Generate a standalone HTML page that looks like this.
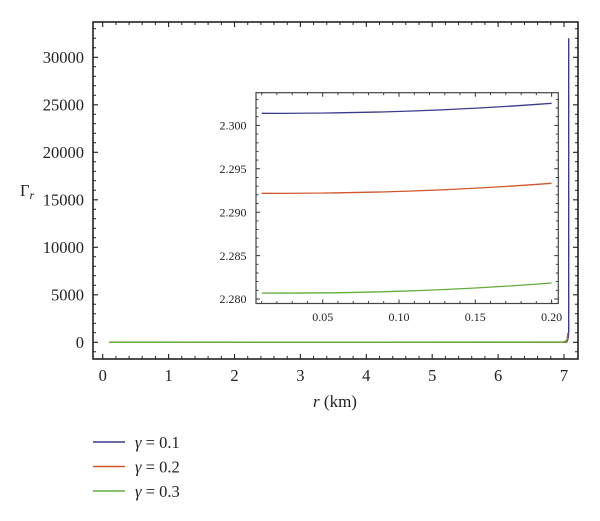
<!DOCTYPE html>
<html><head><meta charset="utf-8"><style>
html,body{margin:0;padding:0;background:#fff;}
svg{display:block;}
text{font-family:"Liberation Serif",serif;fill:#222;}
</style></head><body>
<svg width="600" height="521" viewBox="0 0 600 521" xmlns="http://www.w3.org/2000/svg">
<!-- main frame -->
<rect x="93" y="22" width="485" height="337" fill="none" stroke="#222" stroke-width="1.6"/>
<!-- main x ticks major -->
<path stroke="#222" stroke-width="1.1" fill="none" d="
M102.7 359v-5 M168.6 359v-5 M234.5 359v-5 M300.4 359v-5 M366.3 359v-5 M432.2 359v-5 M498.1 359v-5 M564 359v-5
M102.7 22v5 M168.6 22v5 M234.5 22v5 M300.4 22v5 M366.3 22v5 M432.2 22v5 M498.1 22v5 M564 22v5"/>
<path stroke="#222" stroke-width="1" fill="none" d="
M115.9 359v-3 M129.1 359v-3 M142.2 359v-3 M155.4 359v-3 M181.8 359v-3 M195 359v-3 M208.1 359v-3 M221.3 359v-3
M247.7 359v-3 M260.9 359v-3 M274 359v-3 M287.2 359v-3 M313.6 359v-3 M326.8 359v-3 M339.9 359v-3 M353.1 359v-3
M379.5 359v-3 M392.7 359v-3 M405.8 359v-3 M419 359v-3 M445.4 359v-3 M458.6 359v-3 M471.7 359v-3 M484.9 359v-3
M511.3 359v-3 M524.5 359v-3 M537.6 359v-3 M550.8 359v-3
M115.9 22v3 M129.1 22v3 M142.2 22v3 M155.4 22v3 M181.8 22v3 M195 22v3 M208.1 22v3 M221.3 22v3
M247.7 22v3 M260.9 22v3 M274 22v3 M287.2 22v3 M313.6 22v3 M326.8 22v3 M339.9 22v3 M353.1 22v3
M379.5 22v3 M392.7 22v3 M405.8 22v3 M419 22v3 M445.4 22v3 M458.6 22v3 M471.7 22v3 M484.9 22v3
M511.3 22v3 M524.5 22v3 M537.6 22v3 M550.8 22v3"/>
<!-- main y ticks major -->
<path stroke="#222" stroke-width="1.1" fill="none" d="
M93 342.3h5 M93 294.8h5 M93 247.3h5 M93 199.8h5 M93 152.3h5 M93 104.8h5 M93 57.3h5
M578 342.3h-5 M578 294.8h-5 M578 247.3h-5 M578 199.8h-5 M578 152.3h-5 M578 104.8h-5 M578 57.3h-5"/>
<path stroke="#222" stroke-width="1" fill="none" d="
M93 351.8h3 M93 332.8h3 M93 323.3h3 M93 313.8h3 M93 304.3h3 M93 285.3h3 M93 275.8h3 M93 266.3h3 M93 256.8h3
M93 237.8h3 M93 228.3h3 M93 218.8h3 M93 209.3h3 M93 190.3h3 M93 180.8h3 M93 171.3h3 M93 161.8h3
M93 142.8h3 M93 133.3h3 M93 123.8h3 M93 114.3h3 M93 95.3h3 M93 85.8h3 M93 76.3h3 M93 66.8h3
M93 47.8h3 M93 38.3h3 M93 28.8h3
M578 351.8h-3 M578 332.8h-3 M578 323.3h-3 M578 313.8h-3 M578 304.3h-3 M578 285.3h-3 M578 275.8h-3 M578 266.3h-3 M578 256.8h-3
M578 237.8h-3 M578 228.3h-3 M578 218.8h-3 M578 209.3h-3 M578 190.3h-3 M578 180.8h-3 M578 171.3h-3 M578 161.8h-3
M578 142.8h-3 M578 133.3h-3 M578 123.8h-3 M578 114.3h-3 M578 95.3h-3 M578 85.8h-3 M578 76.3h-3 M578 66.8h-3
M578 47.8h-3 M578 38.3h-3 M578 28.8h-3"/>
<!-- main y labels -->
<g font-size="16.5" text-anchor="end">
<text x="84" y="348.1">0</text>
<text x="84" y="300.6">5000</text>
<text x="84" y="253.1">10000</text>
<text x="84" y="205.6">15000</text>
<text x="84" y="158.1">20000</text>
<text x="84" y="110.6">25000</text>
<text x="84" y="63.1">30000</text>
</g>
<!-- main x labels -->
<g font-size="16.5" text-anchor="middle">
<text x="102.7" y="381">0</text>
<text x="168.6" y="381">1</text>
<text x="234.5" y="381">2</text>
<text x="300.4" y="381">3</text>
<text x="366.3" y="381">4</text>
<text x="432.2" y="381">5</text>
<text x="498.1" y="381">6</text>
<text x="564" y="381">7</text>
</g>
<text x="335" y="407" font-size="17" text-anchor="middle"><tspan font-style="italic">r</tspan> (km)</text>
<text x="20" y="196" font-size="16.5">Γ<tspan font-size="12" font-style="italic" dy="3">r</tspan></text>

<!-- main curves -->
<path d="M109.3 342.3 L566 342.3 Q568.5 342 568.7 330 L568.7 38.3" fill="none" stroke="#3b3a8e" stroke-width="1.4"/>
<path d="M109.3 342.3 L565 342.3 Q567.5 341.5 567.8 333" fill="none" stroke="#d2562a" stroke-width="1.4"/>
<path d="M109.3 342.3 L562 342.1 Q566.5 341.8 567.6 338.5" fill="none" stroke="#5fae3a" stroke-width="1.4"/>

<!-- inset -->
<rect x="256" y="92.7" width="302.3" height="210.8" fill="#fff" stroke="#444" stroke-width="1.2"/>
<path stroke="#333" stroke-width="1" fill="none" d="
M322.7 303.5v-4 M399 303.5v-4 M475.3 303.5v-4 M551.6 303.5v-4
M322.7 92.7v4 M399 92.7v4 M475.3 92.7v4 M551.6 92.7v4
M256 299h4 M256 255.6h4 M256 212.2h4 M256 168.8h4 M256 125.4h4
M558.3 299h-4 M558.3 255.6h-4 M558.3 212.2h-4 M558.3 168.8h-4 M558.3 125.4h-4"/>
<path stroke="#333" stroke-width="0.9" fill="none" d="
M261.7 303.5v-2.5 M276.9 303.5v-2.5 M292.2 303.5v-2.5 M307.4 303.5v-2.5 M338 303.5v-2.5 M353.2 303.5v-2.5 M368.5 303.5v-2.5 M383.7 303.5v-2.5
M414.3 303.5v-2.5 M429.5 303.5v-2.5 M444.8 303.5v-2.5 M460 303.5v-2.5 M490.6 303.5v-2.5 M505.8 303.5v-2.5 M521.1 303.5v-2.5 M536.3 303.5v-2.5
M261.7 92.7v2.5 M276.9 92.7v2.5 M292.2 92.7v2.5 M307.4 92.7v2.5 M338 92.7v2.5 M353.2 92.7v2.5 M368.5 92.7v2.5 M383.7 92.7v2.5
M414.3 92.7v2.5 M429.5 92.7v2.5 M444.8 92.7v2.5 M460 92.7v2.5 M490.6 92.7v2.5 M505.8 92.7v2.5 M521.1 92.7v2.5 M536.3 92.7v2.5
M256 290.3h2.5 M256 281.6h2.5 M256 273h2.5 M256 264.3h2.5 M256 246.9h2.5 M256 238.2h2.5 M256 229.6h2.5 M256 220.9h2.5
M256 203.5h2.5 M256 194.8h2.5 M256 186.2h2.5 M256 177.5h2.5 M256 160.1h2.5 M256 151.4h2.5 M256 142.8h2.5 M256 134.1h2.5
M256 116.7h2.5 M256 108h2.5 M256 99.4h2.5
M558.3 290.3h-2.5 M558.3 281.6h-2.5 M558.3 273h-2.5 M558.3 264.3h-2.5 M558.3 246.9h-2.5 M558.3 238.2h-2.5 M558.3 229.6h-2.5 M558.3 220.9h-2.5
M558.3 203.5h-2.5 M558.3 194.8h-2.5 M558.3 186.2h-2.5 M558.3 177.5h-2.5 M558.3 160.1h-2.5 M558.3 151.4h-2.5 M558.3 142.8h-2.5 M558.3 134.1h-2.5
M558.3 116.7h-2.5 M558.3 108h-2.5 M558.3 99.4h-2.5"/>
<g font-size="12" text-anchor="end" style="fill:#333">
<text x="246.5" y="303.2">2.280</text>
<text x="246.5" y="259.8">2.285</text>
<text x="246.5" y="216.4">2.290</text>
<text x="246.5" y="173">2.295</text>
<text x="246.5" y="129.6">2.300</text>
</g>
<g font-size="12" text-anchor="middle" style="fill:#333">
<text x="322.7" y="321">0.05</text>
<text x="399" y="321">0.10</text>
<text x="475.3" y="321">0.15</text>
<text x="551.6" y="321">0.20</text>
</g>
<path d="M261.7 113.3 Q410 114 551.6 103.3" fill="none" stroke="#3b3a8e" stroke-width="1.3"/>
<path d="M261.7 193.3 Q410 194 551.6 183.3" fill="none" stroke="#d2562a" stroke-width="1.3"/>
<path d="M261.7 293 Q410 294 551.6 283" fill="none" stroke="#5fae3a" stroke-width="1.3"/>

<!-- legend -->
<line x1="93" y1="442" x2="125" y2="442" stroke="#3b3a8e" stroke-width="1.4"/>
<line x1="93" y1="466.5" x2="125" y2="466.5" stroke="#d2562a" stroke-width="1.4"/>
<line x1="93" y1="491" x2="125" y2="491" stroke="#5fae3a" stroke-width="1.4"/>
<g font-size="16.5">
<text x="135" y="448"><tspan font-style="italic">γ</tspan> = 0.1</text>
<text x="135" y="472.5"><tspan font-style="italic">γ</tspan> = 0.2</text>
<text x="135" y="497"><tspan font-style="italic">γ</tspan> = 0.3</text>
</g>
</svg>
</body></html>
